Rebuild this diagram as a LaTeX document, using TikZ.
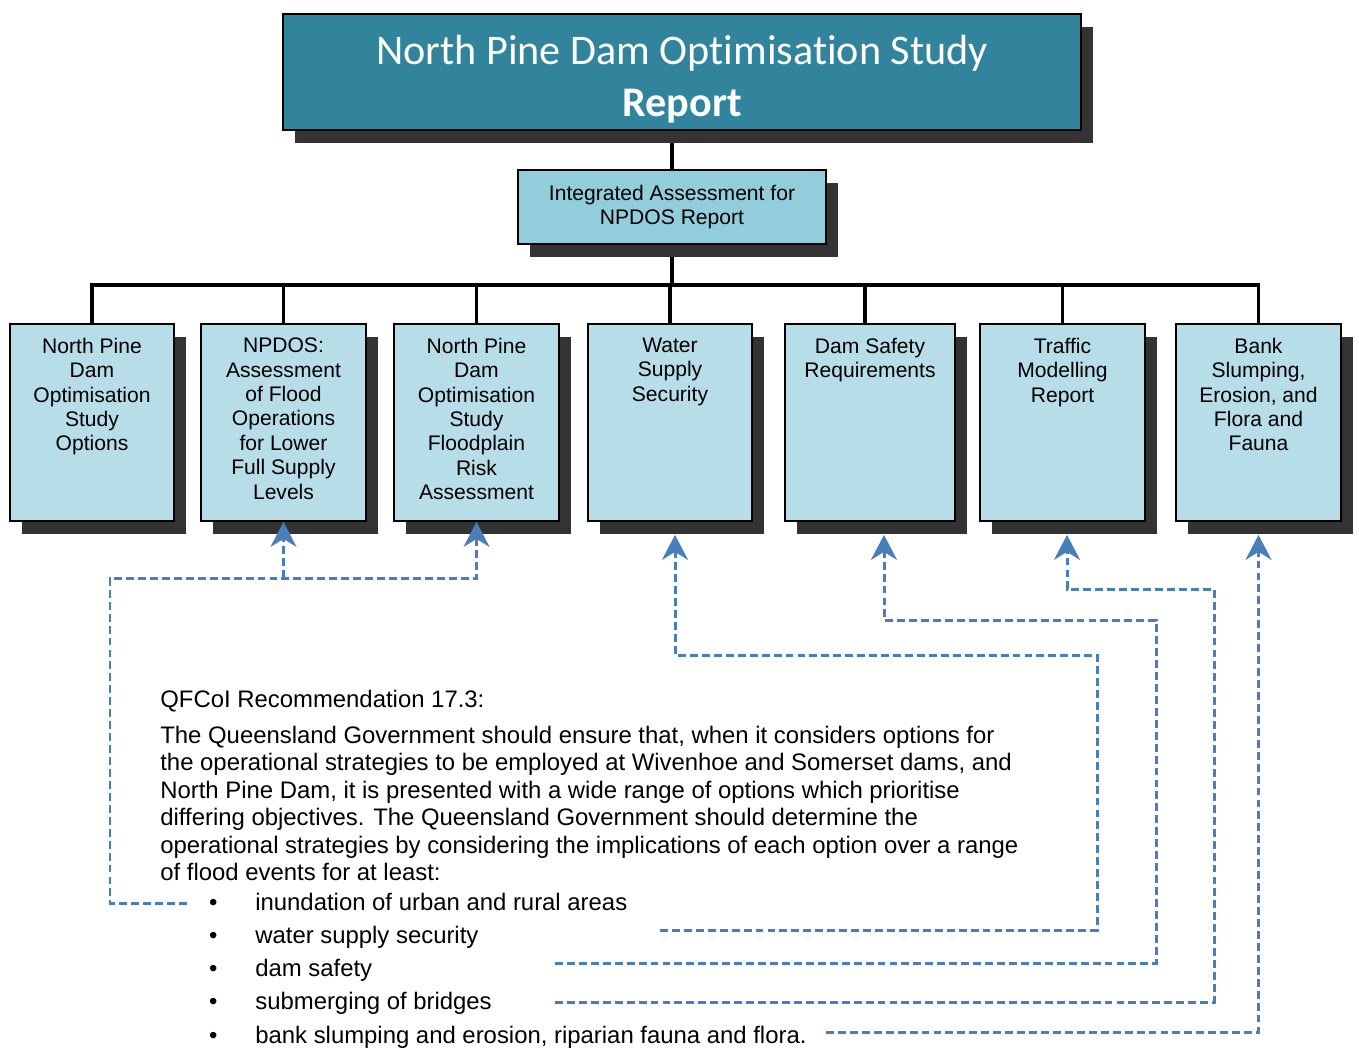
\documentclass[tikz,border=0pt]{standalone}
\usepackage{fontspec}
\setmainfont{Liberation Sans}
\newfontfamily\titlefont[Ligatures=NoCommon]{Carlito}
\usetikzlibrary{arrows.meta, shadows, backgrounds}
\definecolor{titleteal}{HTML}{31849B}
\definecolor{midblue}{HTML}{92CDDC}
\definecolor{paleblue}{HTML}{B7DDE8}
\definecolor{linkblue}{HTML}{4A7EBB}
\tikzstyle{boxshadow} = [drop shadow={shadow xshift=0.24cm, shadow yshift=-0.26cm,
  fill=black!80, opacity=1}]
\tikzstyle{topbox} = [rectangle, draw, line width=1.1pt, fill=titleteal, boxshadow,
  text=white, minimum width=15.96cm, minimum height=2.32cm, align=center,
  font=\titlefont\fontsize{24}{29.5}\selectfont]
\tikzstyle{midbox} = [rectangle, draw, line width=1.1pt, fill=midblue, boxshadow,
  minimum width=6.16cm, minimum height=1.48cm, align=center,
  font=\fontsize{12}{13.6}\selectfont]
\tikzstyle{study} = [rectangle, draw, line width=1.1pt, fill=paleblue, boxshadow,
  inner xsep=0pt, inner ysep=0.28cm, anchor=north]
\tikzstyle{branch} = [line width=2.2pt]
\tikzstyle{stub} = [linkblue, line width=1.7pt, dash pattern=on 4.5pt off 2.3pt]
\tikzstyle{link} = [stub, -{Stealth[length=0.5cm, width=0.52cm, inset=0.16cm]}]
\tikzstyle{prose} = [inner sep=0pt, anchor=base west,
  font=\fontsize{13.6}{15.6}\selectfont]
\newcommand{\studytext}[2][3.28cm]{\parbox[t][3.38cm][t]{#1}{\centering
  \fontsize{12}{13.9}\selectfont #2}}
\newcommand{\bulletitem}[1]{\makebox[1.9cm][l]{\hspace{0.976cm}\textbullet}#1}

\begin{document}
\begin{tikzpicture}[x=0.02cm, y=-0.02cm]
    \useasboundingbox (0,0) rectangle (1359,1048);
    \node[topbox] (title) at (682,72) {\rule{0pt}{0.87cm}North Pine Dam Optimisation Study\\\textbf{Report}};
    \node[midbox] (integ) at (672,207) {Integrated Assessment for\\NPDOS Report};
    \node[study] (b1) at (92,323) {\studytext{North Pine\\Dam\\Optimisation\\Study\\Options}};
    \node[study] (b2) at (283.5,323) {\studytext[3.3cm]{NPDOS:\\Assessment\\of Flood\\Operations\\for Lower\\Full Supply\\Levels}};
    \node[study] (b3) at (476.5,323) {\studytext[3.3cm]{North Pine\\Dam\\Optimisation\\Study\\Floodplain\\Risk\\Assessment}};
    \node[study] (b4) at (670,323) {\studytext{Water\\Supply\\Security}};
    \node[study] (b5) at (870,323) {\studytext[3.4cm]{Dam Safety\\Requirements}};
    \node[study] (b6) at (1062.5,323) {\studytext[3.3cm]{Traffic\\Modelling\\Report}};
    \node[study] (b7) at (1258.5,323) {\studytext[3.3cm]{Bank\\Slumping,\\Erosion, and\\Flora and\\Fauna}};
    \coordinate (bus) at (672,285);
    \begin{scope}[on background layer]
      \draw[branch] (integ.north |- title.south) -- (integ.north);
      \draw[branch] (integ.south) -- (bus);
      \draw[branch] (b1.north) |- (bus);
      \draw[branch] (b2.north) |- (bus);
      \draw[branch] (b3.north) |- (bus);
      \draw[branch] (b4.north) |- (bus);
      \draw[branch] ([xshift=-0.1cm]b5.north) |- (bus);
      \draw[branch] (b6.north) |- (bus);
      \draw[branch] (b7.north) |- (bus);
    \end{scope}
    \node[prose] (head) at (160,707.5) {QFCoI Recommendation 17.3:};
    \node[prose] (para) at (160,743.5) {\parbox[t]{19cm}{\raggedright
      The Queensland Government should ensure that, when it considers options for\\
      the operational strategies to be employed at Wivenhoe and Somerset dams, and\\
      North Pine Dam, it is presented with a wide range of options which prioritise\\
      differing objectives. The Queensland Government should determine the\\
      operational strategies by considering the implications of each option over a range\\
      of flood events for at least:}};
    \node[prose] (i1) at (160,910) {\bulletitem{inundation of urban and rural areas}};
    \node[prose] (i2) at (160,943.3) {\bulletitem{water supply security}};
    \node[prose] (i3) at (160,976.6) {\bulletitem{dam safety}};
    \node[prose] (i4) at (160,1009.9) {\bulletitem{submerging of bridges}};
    \node[prose] (i5) at (160,1043.2) {\bulletitem{bank slumping and erosion, riparian fauna and flora.}};
    \coordinate (s1) at (187,903);
    \coordinate (j1) at (110,578);
    \coordinate (s2) at (660,930);
    \coordinate (j2) at (1097,655);
    \coordinate (s3) at (555,963);
    \coordinate (j3) at (1156,620);
    \coordinate (s4) at (555,1002);
    \coordinate (j4) at (1214,589);
    \coordinate (s5) at (826,1032);
    \draw[link] (s1) -| (j1) -| (b3.south);
    \draw[link] (b2.south |- j1) -- (b2.south);
    \draw[link, shorten >=0.26cm] (s2) -| (j2) -| ([xshift=0.1cm]b4.south);
    \draw[link, shorten >=0.26cm] (s3) -| (j3) -| ([xshift=0.28cm]b5.south);
    \draw[link, shorten >=0.26cm] (s4) -| (j4) -| ([xshift=0.09cm]b6.south);
    \draw[link, shorten >=0.26cm] (s5) -| (b7.south);
\end{tikzpicture}
\end{document}
